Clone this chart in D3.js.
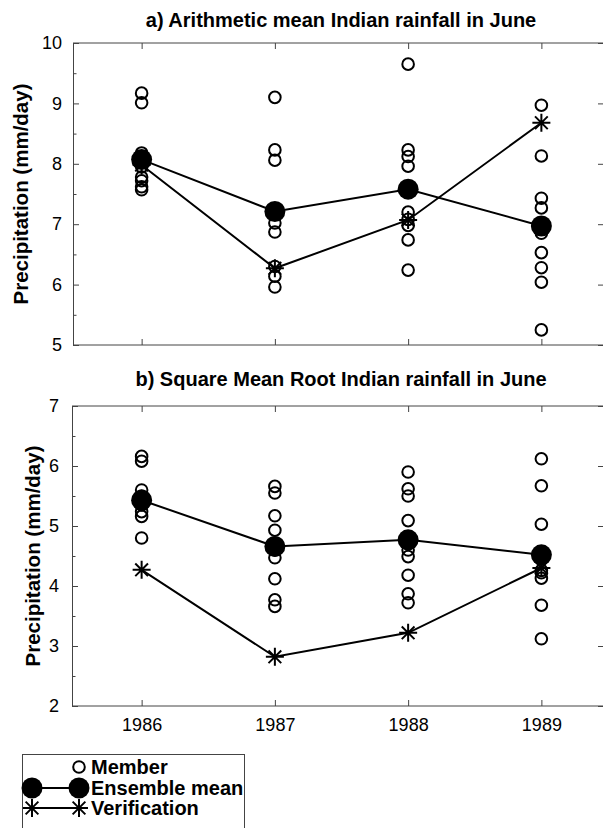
<!DOCTYPE html>
<html>
<head>
<meta charset="utf-8">
<script src="https://cdn.jsdelivr.net/npm/d3@7"></script>
<style>
  html, body { margin: 0; padding: 0; background: #fff; }
  svg { display: block; font-family: "Liberation Sans", Arial, sans-serif; }
</style>
</head>
<body>
<svg id="chart" width="603" height="828"></svg>
<script>
// ─── Data ─────────────────────────────────────────
const years = [1986, 1987, 1988, 1989];

// a) arithmetic mean, 9 ensemble members per year
const membersA = [
  [9.17, 9.01, 8.18, 8.10, 7.95, 7.78, 7.72, 7.62, 7.57],
  [9.10, 8.23, 8.06, 7.18, 7.02, 6.87, 6.30, 6.14, 5.96],
  [9.65, 8.23, 8.12, 7.96, 7.20, 7.08, 6.98, 6.74, 6.24],
  [8.97, 8.13, 7.43, 7.27, 6.85, 6.53, 6.28, 6.04, 5.25]
];
const meanA = [8.07, 7.21, 7.58, 6.97];
const verifA = [7.98, 6.27, 7.07, 8.68];

// b) square mean root
const membersB = [
  [6.16, 6.08, 5.60, 5.50, 5.42, 5.35, 5.24, 5.16, 4.80],
  [5.66, 5.55, 5.17, 4.93, 4.60, 4.47, 4.12, 3.77, 3.66],
  [5.90, 5.62, 5.50, 5.09, 4.60, 4.49, 4.18, 3.87, 3.72],
  [6.12, 5.67, 5.03, 4.45, 4.26, 4.22, 4.13, 3.68, 3.12]
];
const meanB = [5.43, 4.66, 4.77, 4.52];
const verifB = [4.27, 2.82, 3.22, 4.30];

const yTicksA = [5, 6, 7, 8, 9, 10];
const yTicksB = [2, 3, 4, 5, 6, 7];

const titleA = 'a) Arithmetic mean Indian rainfall in June';
const titleB = 'b) Square Mean Root Indian rainfall in June';
const yLabel = 'Precipitation (mm/day)';
const legendItems = ['Member', 'Ensemble mean', 'Verification'];

// ─── Setup ────────────────────────────────────────
const svg = d3.select('#chart');
const INK = '#000';
const FRAME = '#444';

const x = d3.scaleLinear().domain([1985.5, 1989.5]).range([75, 608]);

function asteriskPath(cx, cy, r) {
  const d = r * Math.SQRT1_2;
  return `M${cx - r},${cy}L${cx + r},${cy}` +
    `M${cx},${cy - r}L${cx},${cy + r}` +
    `M${cx - d},${cy - d}L${cx + d},${cy + d}` +
    `M${cx - d},${cy + d}L${cx + d},${cy - d}`;
}

function styleAxis(g) {
  g.select('.domain').attr('stroke', FRAME).attr('stroke-width', 1);
  g.selectAll('.tick line').attr('stroke', FRAME).attr('stroke-width', 1);
  g.selectAll('.tick text')
    .attr('fill', INK)
    .style('font-size', '18px')
    .style('font-family', '"Liberation Sans", Arial, sans-serif');
}

// ─── Panel ────────────────────────────────────────
function drawPanel(opts) {
  const y = d3.scaleLinear().domain(opts.domain).range([opts.bottom, opts.top]);
  const left = opts.left, right = 604;
  const g = svg.append('g');

  // left axis, major + minor ticks inward
  g.append('g')
    .attr('transform', `translate(${left},0)`)
    .call(d3.axisLeft(y).tickValues(opts.ticks).tickSizeInner(-6).tickSizeOuter(0)
      .tickPadding(opts.labelGap).tickFormat(d3.format('d')))
    .call(styleAxis);
  g.append('g')
    .attr('transform', `translate(${left},0)`)
    .call(d3.axisLeft(y).tickValues(opts.ticks.slice(1).map(t => t - 0.5))
      .tickSizeInner(-3.5).tickSizeOuter(0).tickFormat(''))
    .call(styleAxis)
    .select('.domain').remove();

  // right axis (mostly off canvas)
  g.append('g')
    .attr('transform', `translate(${right},0)`)
    .call(d3.axisRight(y).tickValues(opts.ticks).tickSizeInner(-6).tickSizeOuter(0).tickFormat(''))
    .call(styleAxis);

  // top + bottom
  g.append('g')
    .attr('transform', `translate(0,${opts.top})`)
    .call(d3.axisTop(x).tickValues(years).tickSizeInner(-6).tickSizeOuter(0).tickFormat(''))
    .call(styleAxis)
    .select('.domain').attr('d', `M${left},0H${right}`);
  g.append('g')
    .attr('transform', `translate(0,${opts.bottom})`)
    .call(d3.axisBottom(x).tickValues(years).tickSizeInner(-6).tickSizeOuter(0)
      .tickPadding(12).tickFormat(opts.xLabels ? d3.format('d') : ''))
    .call(styleAxis)
    .select('.domain').attr('d', `M${left},0H${right}`);

  // title
  g.append('text')
    .attr('x', 341).attr('y', opts.titleY)
    .attr('text-anchor', 'middle')
    .style('font-size', '20px').style('font-weight', 'bold')
    .text(opts.title);

  // y label
  g.append('text')
    .attr('transform', `translate(${opts.yLabelX},${(opts.top + opts.bottom) / 2}) rotate(-90)`)
    .attr('text-anchor', 'middle')
    .style('font-size', '20.5px').style('font-weight', 'bold')
    .text(yLabel);

  // members
  const pts = [];
  opts.members.forEach((vals, i) => vals.forEach(v => pts.push({ yr: years[i], v: v })));
  g.append('g').selectAll('circle').data(pts).join('circle')
    .attr('cx', d => x(d.yr)).attr('cy', d => y(d.v)).attr('r', 5.8)
    .attr('fill', 'none').attr('stroke', INK).attr('stroke-width', 2);

  // verification
  const line = d3.line().x((d, i) => x(years[i])).y(d => y(d));
  g.append('path').datum(opts.verif)
    .attr('d', line).attr('fill', 'none').attr('stroke', INK).attr('stroke-width', 2);
  g.append('g').selectAll('path').data(opts.verif).join('path')
    .attr('d', (d, i) => asteriskPath(x(years[i]), y(d), 9))
    .attr('stroke', INK).attr('stroke-width', 2);

  // ensemble mean
  g.append('path').datum(opts.mean)
    .attr('d', line).attr('fill', 'none').attr('stroke', INK).attr('stroke-width', 2);
  g.append('g').selectAll('circle').data(opts.mean).join('circle')
    .attr('cx', (d, i) => x(years[i])).attr('cy', d => y(d)).attr('r', 10.5)
    .attr('fill', INK);
}

drawPanel({
  domain: [5, 10], top: 43, bottom: 345, left: 73, labelGap: 11,
  ticks: yTicksA, members: membersA, mean: meanA, verif: verifA,
  title: titleA, titleY: 27, yLabelX: 28, xLabels: false
});
drawPanel({
  domain: [2, 7], top: 406, bottom: 706, left: 72, labelGap: 13,
  ticks: yTicksB, members: membersB, mean: meanB, verif: verifB,
  title: titleB, titleY: 386, yLabelX: 40, xLabels: true
});

// ─── Legend ───────────────────────────────────────
const lg = svg.append('g');
lg.append('rect')
  .attr('x', 22.5).attr('y', 754.5).attr('width', 222).attr('height', 90)
  .attr('fill', 'none').attr('stroke', FRAME).attr('stroke-width', 1);

const rowY = [767, 788, 808];
lg.append('circle').attr('cx', 79).attr('cy', rowY[0]).attr('r', 5.8)
  .attr('fill', 'none').attr('stroke', INK).attr('stroke-width', 2);
lg.append('line').attr('x1', 32).attr('x2', 79).attr('y1', rowY[1]).attr('y2', rowY[1])
  .attr('stroke', INK).attr('stroke-width', 2);
[32, 79].forEach(cx => lg.append('circle').attr('cx', cx).attr('cy', rowY[1]).attr('r', 10.5).attr('fill', INK));
lg.append('line').attr('x1', 32).attr('x2', 79).attr('y1', rowY[2]).attr('y2', rowY[2])
  .attr('stroke', INK).attr('stroke-width', 2);
[32, 79].forEach(cx => lg.append('path').attr('d', asteriskPath(cx, rowY[2], 9))
  .attr('stroke', INK).attr('stroke-width', 2));

lg.selectAll('text.lab').data(legendItems).join('text')
  .attr('class', 'lab')
  .attr('x', 91).attr('y', (d, i) => rowY[i] + 7)
  .style('font-size', '20px').style('font-weight', 'bold')
  .text(d => d);
</script>
</body>
</html>
